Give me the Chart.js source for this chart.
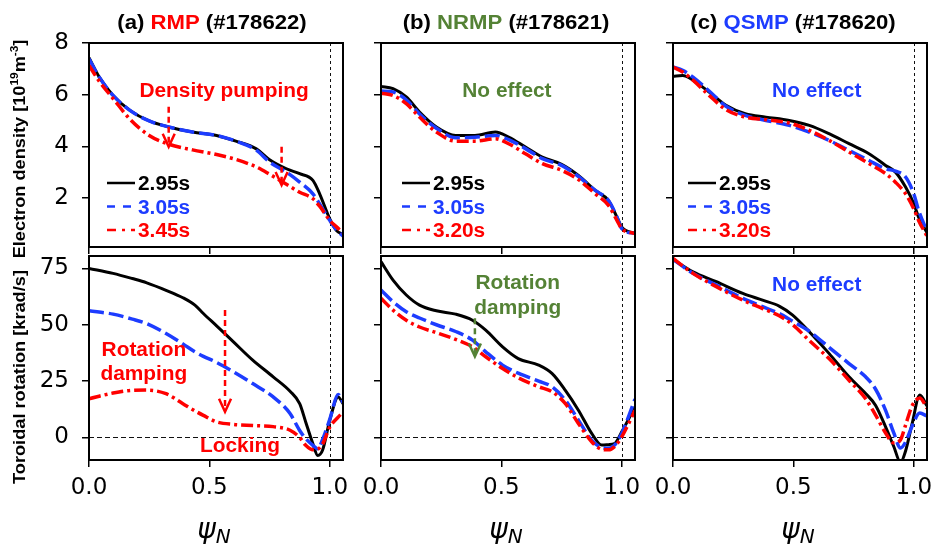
<!DOCTYPE html>
<html>
<head>
<meta charset="utf-8">
<script src="https://cdn.jsdelivr.net/npm/chart.js@4.4.1/dist/chart.umd.min.js"></script>
<style>
  body { margin: 0; background: #fff; width: 933px; height: 545px; position: relative; overflow: hidden; }
  canvas { position: absolute; }
</style>
</head>
<body>
<script>
// ---- data (psi_N on x) ----
// (a) RMP #178622
const psiNeA = [0, 0.044, 0.1, 0.17, 0.25, 0.335, 0.43, 0.53, 0.61, 0.695, 0.75, 0.82, 0.875, 0.93, 0.958, 1.0, 1.028, 1.055];
const neA295 = [7.43, 6.66, 5.97, 5.39, 4.98, 4.74, 4.55, 4.42, 4.2, 3.9, 3.48, 3.13, 2.94, 2.68, 2.16, 1.19, 0.74, 0.58];
const neA305 = [7.39, 6.66, 5.97, 5.39, 4.98, 4.74, 4.55, 4.42, 4.2, 3.85, 3.39, 3.0, 2.61, 2.16, 1.77, 1.13, 0.76, 0.53];
const neA345 = [7.13, 6.5, 5.85, 5.05, 4.42, 4.07, 3.86, 3.68, 3.49, 3.2, 2.92, 2.53, 2.22, 1.97, 1.68, 1.13, 0.88, 0.65];

const psiVtA = [0, 0.1, 0.18, 0.24, 0.32, 0.39, 0.44, 0.475, 0.53, 0.6, 0.68, 0.765, 0.835, 0.875, 0.9, 0.93, 0.95, 0.97, 1.0, 1.035, 1.055];
const vtA295 = [75, 72.8, 70.5, 68.6, 65.3, 62, 58.7, 55, 49.5, 42.4, 34.3, 26.9, 20.5, 15, 6.9, -2.8, -8, -5.7, 7.6, 18, 15];
const vtA305 = [56.2, 54.7, 52.5, 50.5, 46.1, 41.5, 38, 36, 33.3, 29.1, 23.9, 18, 10.6, 3.1, -0.5, -3.5, -5, -1, 8, 19.1, 15.5];
const vtA345 = [17.2, 19.7, 20.9, 21, 19.4, 15, 11.8, 9.8, 6.9, 5.8, 5.3, 4.8, 3.2, 0, -3.5, -5.5, -5.2, -3, 4.6, 9, 11.3];

// (b) NRMP #178621
const psiNeB = [0, 0.05, 0.105, 0.16, 0.23, 0.31, 0.39, 0.475, 0.53, 0.6, 0.67, 0.75, 0.82, 0.89, 0.945, 0.98, 1.0, 1.055];
const neB295 = [6.32, 6.23, 5.91, 5.33, 4.75, 4.42, 4.42, 4.55, 4.36, 3.97, 3.58, 3.3, 2.87, 2.29, 1.9, 1.26, 0.87, 0.62];
const neB305 = [6.14, 6.1, 5.8, 5.25, 4.7, 4.33, 4.35, 4.42, 4.26, 3.91, 3.52, 3.26, 2.83, 2.29, 1.9, 1.26, 0.81, 0.62];
const neB320 = [6.06, 5.97, 5.65, 5.13, 4.55, 4.2, 4.2, 4.29, 4.1, 3.71, 3.33, 3.07, 2.71, 2.16, 1.71, 1.13, 0.81, 0.62];

const psiVtB = [0, 0.05, 0.105, 0.16, 0.23, 0.31, 0.38, 0.435, 0.505, 0.57, 0.655, 0.71, 0.765, 0.82, 0.875, 0.917, 0.945, 0.97, 1.0, 1.055];
const vtB295 = [78, 69.8, 63.2, 58.7, 56.2, 54.7, 52, 47.6, 40.2, 35, 32.1, 28.4, 21, 12.1, 1.8, -3.4, -3.2, -2.7, 2.5, 13.5];
const vtB305 = [65.4, 60.2, 55.8, 53, 50, 47, 43.2, 38, 32.1, 28.5, 25, 22.5, 16.6, 7.7, -1.2, -4.5, -4.8, -3.4, 1.8, 17];
const vtB320 = [61.7, 56.5, 52, 49, 46.5, 43.5, 40.2, 35.8, 30.6, 26.5, 22.5, 20.3, 15.1, 6.2, -1.9, -5.3, -5.5, -4.1, 0.3, 12];

// (c) QSMP #178620
const psiNeC = [0, 0.04, 0.083, 0.15, 0.22, 0.3, 0.386, 0.483, 0.566, 0.648, 0.731, 0.814, 0.883, 0.924, 0.966, 1.0, 1.02, 1.055];
const neC295 = [6.71, 6.74, 6.56, 6.1, 5.59, 5.26, 5.13, 5.0, 4.81, 4.49, 4.1, 3.71, 3.26, 3.0, 2.42, 1.78, 1.26, 0.65];
const neC305 = [7.07, 6.94, 6.68, 6.14, 5.55, 5.2, 5.0, 4.81, 4.55, 4.23, 3.84, 3.45, 3.13, 3.04, 2.81, 2.16, 1.52, 0.7];
const neC320 = [7.07, 6.88, 6.56, 5.97, 5.42, 5.13, 5.03, 4.9, 4.62, 4.23, 3.78, 3.33, 2.94, 2.61, 2.16, 1.58, 1.13, 0.52];

const psiVtC = [0, 0.083, 0.18, 0.29, 0.372, 0.441, 0.497, 0.566, 0.648, 0.731, 0.8, 0.841, 0.883, 0.917, 0.945, 0.966, 0.993, 1.025, 1.055];
const vtC295 = [79, 73.5, 69.1, 63.9, 60.9, 58.3, 54.3, 46.9, 37.3, 26.9, 19.5, 14.3, 4.7, -4, -11, -6, 6, 18.8, 14];
const vtC305 = [79, 72.8, 67.6, 61.7, 58, 55, 51.5, 47.1, 40, 32.8, 26.9, 21.5, 12, 2, -4.7, -2, 5, 10.8, 9.5];
const vtC320 = [79.4, 72.8, 66.9, 60.9, 57.2, 54, 50, 43, 35, 25.4, 17.2, 10, 2, -2.5, -1, 5.5, 14, 17.5, 13];

const xTicks = [0, 0.5, 1.0];
const neTicks = [2, 4, 6, 8];
const vtTicks = [0, 25, 50, 75];
const timesA = ['2.95s', '3.05s', '3.45s'];
const timesBC = ['2.95s', '3.05s', '3.20s'];

// ---- styling ----
const RED = '#ff0000', BLUE = '#1d3cff', GREEN = '#548235', BLACK = '#000';
const BOLD = '"Liberation Sans", Arial, sans-serif';
const TICKFONT = '"DejaVu Sans", sans-serif';
const SX = 1.07;          // bold text in the figure is a bit wider than Arial
const PW = 254, PH = 204; // plot box size
const YW = 89, PADR = 25;

// draw a run of coloured text pieces, centred (or left aligned) on a baseline
function drawRuns(ctx, parts, x, y, size, align, angle) {
  ctx.save();
  ctx.translate(x, y);
  if (angle) ctx.rotate(angle);
  ctx.scale(SX, 1);
  ctx.textBaseline = 'alphabetic';
  ctx.textAlign = 'left';
  const fonts = parts.map(p => 'bold ' + (p[2] ? size * 0.65 : size) + 'px ' + BOLD);
  let w = 0;
  parts.forEach((p, i) => { ctx.font = fonts[i]; w += ctx.measureText(p[0]).width; });
  let cx = align === 'left' ? 0 : -w / 2;
  parts.forEach((p, i) => {
    ctx.font = fonts[i];
    ctx.fillStyle = p[1];
    ctx.fillText(p[0], cx, p[2] ? -size * 0.42 : 0);
    cx += ctx.measureText(p[0]).width;
  });
  ctx.restore();
}

function drawArrow(ctx, x, y0, y1, color) {
  ctx.save();
  ctx.strokeStyle = color;
  ctx.lineWidth = 2.5;
  ctx.setLineDash([6, 4]);
  ctx.beginPath(); ctx.moveTo(x, y0); ctx.lineTo(x, y1 - 2); ctx.stroke();
  ctx.setLineDash([]);
  ctx.beginPath(); ctx.moveTo(x - 6, y1 - 13); ctx.lineTo(x, y1); ctx.lineTo(x + 6, y1 - 13); ctx.stroke();
  ctx.restore();
}

const panels = [
  { col: 0, row: 0, left: 89, xs: psiNeA, ys: [neA295, neA305, neA345], times: timesA,
    title: [['(a) ', BLACK], ['RMP', RED], [' (#178622)', BLACK]], titleDx: -4, legX: 18,
    texts: [['Density pumping', RED, 0.561, 5.92]],
    arrows: [[0.331, 5.53, 3.98, RED], [0.80, 3.98, 2.5, RED]] },
  { col: 0, row: 1, left: 89, xs: psiVtA, ys: [vtA295, vtA305, vtA345],
    texts: [['Rotation', RED, 0.228, 36.1], ['damping', RED, 0.228, 25.5], ['Locking', RED, 0.627, -6.3]],
    arrows: [[0.565, 56.5, 11.4, RED]] },
  { col: 1, row: 0, left: 381, xs: psiNeB, ys: [neB295, neB305, neB320], times: timesBC,
    title: [['(b) ', BLACK], ['NRMP', GREEN], [' (#178621)', BLACK]], titleDx: -2, legX: 21,
    texts: [['No effect', GREEN, 0.523, 5.92]], arrows: [] },
  { col: 1, row: 1, left: 381, xs: psiVtB, ys: [vtB295, vtB305, vtB320],
    texts: [['Rotation', GREEN, 0.568, 65.7], ['damping', GREEN, 0.568, 54.8]],
    arrows: [[0.39, 52.9, 35.9, GREEN]] },
  { col: 2, row: 0, left: 673, xs: psiNeC, ys: [neC295, neC305, neC320], times: timesBC,
    title: [['(c) ', BLACK], ['QSMP', BLUE], [' (#178620)', BLACK]], titleDx: -7, legX: 15,
    texts: [['No effect', BLUE, 0.597, 5.92]], arrows: [] },
  { col: 2, row: 1, left: 673, xs: psiVtC, ys: [vtC295, vtC305, vtC320],
    texts: [['No effect', BLUE, 0.597, 65.0]], arrows: [] }
];

const lineStyles = [
  { color: BLACK, width: 3, dash: [], legDash: [], order: 3 },
  { color: BLUE, width: 3.5, dash: [15, 5], legDash: [8, 8], order: 2 },
  { color: RED, width: 3.5, dash: [12, 4, 3, 4], legDash: [9, 6, 3, 6], order: 1 }
];

function panelPlugin(p) {
  return {
    id: 'panelDecor',
    beforeDatasetsDraw(chart) {
      const { ctx, chartArea: a, scales: { x, y } } = chart;
      ctx.save();
      ctx.strokeStyle = '#111';
      ctx.lineWidth = 1;
      ctx.setLineDash([3, 3]);
      const px = Math.round(x.getPixelForValue(1)) + 0.5;
      ctx.beginPath(); ctx.moveTo(px, a.top); ctx.lineTo(px, a.bottom); ctx.stroke();
      if (p.row === 1) {
        const py = Math.round(y.getPixelForValue(0)) + 0.5;
        ctx.setLineDash([5, 3]);
        ctx.beginPath(); ctx.moveTo(a.left, py); ctx.lineTo(a.right, py); ctx.stroke();
      }
      ctx.restore();
    },
    afterDatasetsDraw(chart) {
      const { ctx, chartArea: a, scales: { x, y } } = chart;
      p.texts.forEach(t => drawRuns(ctx, [[t[0], t[1]]], x.getPixelForValue(t[2]), y.getPixelForValue(t[3]), 19.5, 'center'));
      p.arrows.forEach(ar => drawArrow(ctx, x.getPixelForValue(ar[0]), y.getPixelForValue(ar[1]), y.getPixelForValue(ar[2]), ar[3]));
      if (p.times) {
        p.times.forEach((lab, i) => {
          const st = lineStyles[i];
          const cy = a.top + 140 + i * 23.5;
          const x0 = a.left + p.legX;
          ctx.save();
          ctx.strokeStyle = st.color;
          ctx.lineWidth = 2.5;
          ctx.setLineDash(st.legDash);
          ctx.beginPath(); ctx.moveTo(x0, cy); ctx.lineTo(x0 + 28, cy); ctx.stroke();
          ctx.restore();
          drawRuns(ctx, [[lab, st.color]], x0 + 31, cy + 7, 19.5, 'left');
        });
      }
    },
    afterDraw(chart) {
      const { ctx, chartArea: a } = chart;
      ctx.save();
      ctx.strokeStyle = '#000';
      ctx.lineWidth = 2;
      ctx.setLineDash([]);
      ctx.strokeRect(a.left, a.top, a.right - a.left, a.bottom - a.top);
      ctx.restore();
      const cx = (a.left + a.right) / 2;
      if (p.title) drawRuns(ctx, p.title, cx + p.titleDx, 29, 20.7, 'center');
      if (p.col === 0) {
        const lab = p.row === 0
          ? [['Electron density [10', BLACK], ['19', BLACK, true], ['m', BLACK], ['-3', BLACK, true], [']', BLACK]]
          : [['Toroidal rotation [krad/s]', BLACK]];
        drawRuns(ctx, lab, 25, p.row === 0 ? 149 : 137, 17, 'center', -Math.PI / 2);
      }
      if (p.row === 1) {
        // psi_N axis label
        ctx.save();
        ctx.fillStyle = '#000';
        ctx.textBaseline = 'alphabetic';
        ctx.font = 'italic 28px ' + TICKFONT;
        const w1 = ctx.measureText('\u03c8').width;
        ctx.font = 'italic 20px ' + TICKFONT;
        const w2 = ctx.measureText('N').width;
        const sx = cx - 2 - (w1 + w2) / 2;
        ctx.font = 'italic 28px ' + TICKFONT;
        ctx.fillText('\u03c8', sx, 298);
        ctx.font = 'italic 20px ' + TICKFONT;
        ctx.fillText('N', sx + w1, 303);
        ctx.restore();
      }
    }
  };
}

function pts(xs, ys) {
  return xs.map((x, i) => ({ x: x, y: ys[i] }));
}

panels.forEach(p => {
  const top = p.row === 0 ? 0 : 240;
  const padTop = p.row === 0 ? 43 : 16;
  const h = p.row === 0 ? 262 : 305;
  const cv = document.createElement('canvas');
  cv.width = YW + PW + PADR;
  cv.height = h;
  cv.style.left = (p.left - YW) + 'px';
  cv.style.top = top + 'px';
  document.body.appendChild(cv);

  const datasets = p.ys.map((ys, i) => ({
    data: pts(p.xs, ys),
    borderColor: lineStyles[i].color,
    borderWidth: lineStyles[i].width,
    borderDash: lineStyles[i].dash,
    order: lineStyles[i].order,
    cubicInterpolationMode: 'monotone',
    pointRadius: 0,
    fill: false
  }));

  const tickFont = { family: TICKFONT, size: 23 };
  new Chart(cv.getContext('2d'), {
    type: 'line',
    data: { datasets: datasets },
    options: {
      responsive: false,
      animation: false,
      devicePixelRatio: 1,
      events: [],
      layout: { autoPadding: false, padding: { top: padTop, right: PADR, left: 0, bottom: 0 } },
      plugins: { legend: { display: false }, tooltip: { enabled: false }, title: { display: false } },
      scales: {
        x: {
          type: 'linear', min: 0, max: 1.055,
          afterBuildTicks: s => { s.ticks = xTicks.map(v => ({ value: v })); },
          afterFit: s => { s.height = h - padTop - PH; s.paddingLeft = 0; s.paddingRight = 0; },
          ticks: { display: p.row === 1, font: tickFont, color: '#000', padding: 7, maxRotation: 0, autoSkip: false,
                   callback: v => Number(v).toFixed(1) },
          grid: { drawOnChartArea: false, drawTicks: true, tickLength: 7, color: '#000', lineWidth: 1.5 },
          border: { display: false }
        },
        y: {
          type: 'linear',
          min: p.row === 0 ? 0.1 : -10,
          max: p.row === 0 ? 8 : 80.5,
          afterBuildTicks: s => { s.ticks = (p.row === 0 ? neTicks : vtTicks).map(v => ({ value: v })); },
          afterFit: s => { s.width = YW; s.paddingTop = 0; s.paddingBottom = 0; },
          ticks: { display: p.col === 0, font: tickFont, color: '#000', padding: 13, callback: v => String(v) },
          grid: { drawOnChartArea: false, drawTicks: true, tickLength: 7, color: '#000', lineWidth: 1.5 },
          border: { display: false }
        }
      }
    },
    plugins: [panelPlugin(p)]
  });
});
</script>
</body>
</html>
